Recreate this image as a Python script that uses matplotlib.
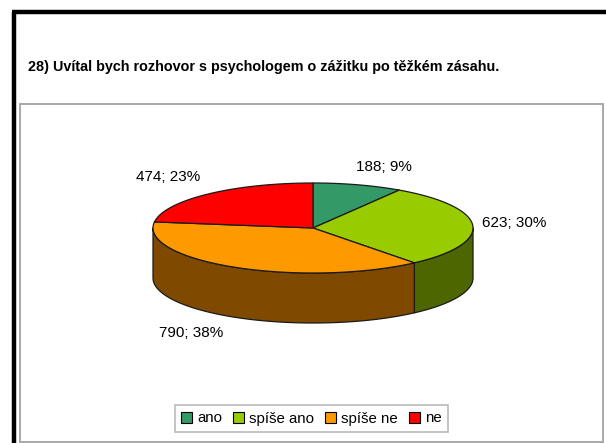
import numpy as np
import matplotlib
matplotlib.use("Agg")
import matplotlib.pyplot as plt
from matplotlib.patches import Polygon, Rectangle, Patch
from matplotlib.lines import Line2D

plt.rcParams['font.family'] = ['Liberation Sans', 'DejaVu Sans']

# Survey answers
categories = ["ano", "spíše ano", "spíše ne", "ne"]
counts = [188, 623, 790, 474]
percents = [9, 30, 38, 23]
title = "28) Uvítal bych rozhovor s psychologem o zážitku po těžkém zásahu."

top_colors = ["#339966", "#99CC00", "#FF9900", "#FF0000"]
side_colors = ["#1A4D33", "#4D6600", "#7F4A00", "#800000"]

W, H = 606, 443
fig = plt.figure(figsize=(W / 100, H / 100), dpi=100)
fig.patch.set_facecolor("white")
ax = fig.add_axes([0, 0, 1, 1])
ax.set_xlim(0, W)
ax.set_ylim(H, 0)
ax.axis("off")

# Outer frame (black, left and top) and inner chart-area box (grey)
ax.add_line(Line2D([14, 14], [12, H], color="black", lw=3.2, solid_capstyle="butt"))
ax.add_line(Line2D([12.4, W], [12, 12], color="black", lw=3.2, solid_capstyle="butt"))
ax.add_patch(Rectangle((20, 104), 583, 337.5, fill=False, edgecolor="#a8a8a8", lw=1.4))

ax.text(28, 67, title, fontsize=10.4, fontweight="bold", ha="left", va="center",
        color="black")

# 3-D pie geometry (pixel space, y grows downward)
cx, cy = 313, 228
a, b = 160, 45
depth = 50
edge = "#1a1a1a"

total = float(sum(counts))
fracs = np.array(counts) / total
starts = np.concatenate([[0], np.cumsum(fracs)[:-1]]) * 360.0
ends = np.cumsum(fracs) * 360.0


def rim(theta_deg, dy=0.0):
    t = np.radians(theta_deg)
    return cx + a * np.sin(t), cy - b * np.cos(t) + dy


# Side walls: only the front half (90..270 deg clockwise from top) is visible
for i in range(len(counts)):
    lo = max(starts[i], 90.0)
    hi = min(ends[i], 270.0)
    if hi <= lo:
        continue
    th = np.linspace(lo, hi, 120)
    xt, yt = rim(th)
    xb, yb = rim(th[::-1], depth)
    pts = np.column_stack([np.concatenate([xt, xb]), np.concatenate([yt, yb])])
    ax.add_patch(Polygon(pts, closed=True, facecolor=side_colors[i],
                         edgecolor=edge, lw=0.9, joinstyle="round"))

# Top face wedges
for i in range(len(counts)):
    th = np.linspace(starts[i], ends[i], 200)
    xs, ys = rim(th)
    pts = np.column_stack([np.concatenate([[cx], xs]), np.concatenate([[cy], ys])])
    ax.add_patch(Polygon(pts, closed=True, facecolor=top_colors[i],
                         edgecolor=edge, lw=0.9, joinstyle="round"))

# Data labels "count; percent" placed outside each slice
label_nudge = [(26, -18), (41, -2), (-44, 66), (-40, -17)]
for i in range(len(counts)):
    mid = (starts[i] + ends[i]) / 2
    x0, y0 = rim(mid)
    dx, dy = label_nudge[i]
    ax.text(x0 + dx, y0 + dy, f"{counts[i]}; {percents[i]}%", fontsize=11,
            ha="center", va="center", color="black")

# Legend
handles = [Patch(facecolor=c, edgecolor="black", lw=0.8) for c in top_colors]
leg = ax.legend(handles, categories, loc="center",
                bbox_to_anchor=(311.5 / W, 1 - 418.5 / H),
                bbox_transform=fig.transFigure, ncol=4, frameon=True,
                fancybox=False, shadow=False, fontsize=10.8,
                handlelength=0.7, handleheight=0.7, handletextpad=0.35,
                columnspacing=0.75, borderpad=0.45, borderaxespad=0)
leg.get_frame().set_edgecolor("#a8a8a8")
leg.get_frame().set_linewidth(1.2)

fig.savefig("out.png", dpi=100, facecolor="white")
